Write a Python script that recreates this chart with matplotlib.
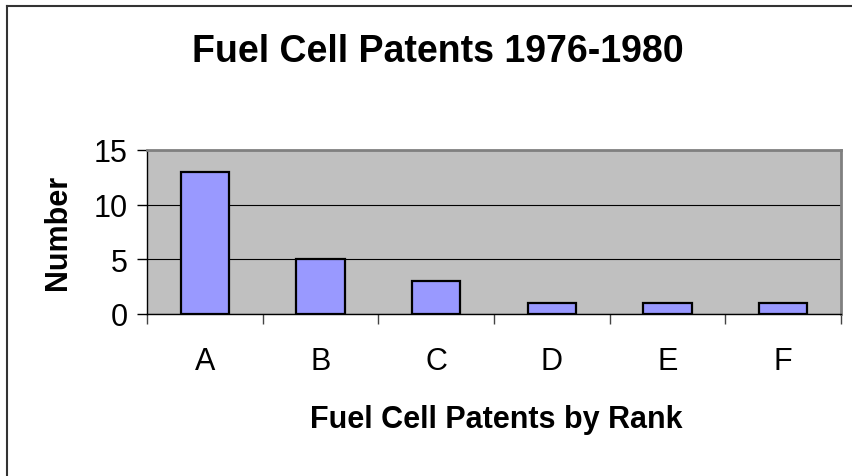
import matplotlib.pyplot as plt
from matplotlib.lines import Line2D

# data
ranks = ["A", "B", "C", "D", "E", "F"]
patents = [13, 5, 3, 1, 1, 1]
y_ticks = [0, 5, 10, 15]

plt.rcParams["font.family"] = ["Liberation Sans", "DejaVu Sans"]

W, H = 853, 477
fig = plt.figure(figsize=(W / 100, H / 100), dpi=100)

# plot area in pixels: left 147, right 841, top 151, bottom 315
ax = fig.add_axes([147 / W, 1 - 315 / H, (841 - 147) / W, (315 - 151) / H])
ax.set_facecolor("#C0C0C0")

x = range(len(ranks))
ax.bar(x, patents, width=0.42, color="#9999FF", edgecolor="black",
       linewidth=1.6, zorder=3)

ax.set_xlim(-0.5, len(ranks) - 0.5)
ax.set_ylim(0, 15)
ax.set_yticks(y_ticks)
ax.set_yticklabels([str(v) for v in y_ticks], fontsize=22)
ax.yaxis.grid(True, color="black", linewidth=0.8, zorder=1)

# category ticks sit on the boundaries, labels in the middle
ax.set_xticks([i - 0.5 for i in range(len(ranks) + 1)])
ax.set_xticklabels([])
ax.set_xticks(list(x), minor=True)
ax.set_xticklabels(ranks, minor=True, fontsize=22)
ax.tick_params(axis="x", which="major", length=7, width=1, direction="out",
               color="#444444")
ax.tick_params(axis="x", which="minor", length=0, pad=23)
ax.tick_params(axis="y", length=7, width=1, direction="out", pad=7)

for side in ["top", "right"]:
    ax.spines[side].set_color("#808080")
    ax.spines[side].set_linewidth(2)
ax.spines["left"].set_color("black")
ax.spines["bottom"].set_color("black")
ax.spines["left"].set_linewidth(1)
ax.spines["bottom"].set_linewidth(1)

fig.text(58 / W, 1 - 232 / H, "Number", fontsize=22, fontweight="bold",
         rotation=90, ha="center", va="center")
fig.text(496 / W, 1 - 420 / H, "Fuel Cell Patents by Rank", fontsize=22,
         fontweight="bold", ha="center", va="center")
fig.text(438 / W, 1 - 52 / H, "Fuel Cell Patents 1976-1980", fontsize=27,
         fontweight="bold", ha="center", va="center")

# chart border (left and top edges visible)
fig.add_artist(Line2D([7 / W, 7 / W], [0, 1 - 7 / H], transform=fig.transFigure,
                      color="#333333", linewidth=1.5))
fig.add_artist(Line2D([7 / W, 1], [1 - 7 / H, 1 - 7 / H], transform=fig.transFigure,
                      color="#333333", linewidth=1.5))

fig.savefig("out.png", dpi=100)
